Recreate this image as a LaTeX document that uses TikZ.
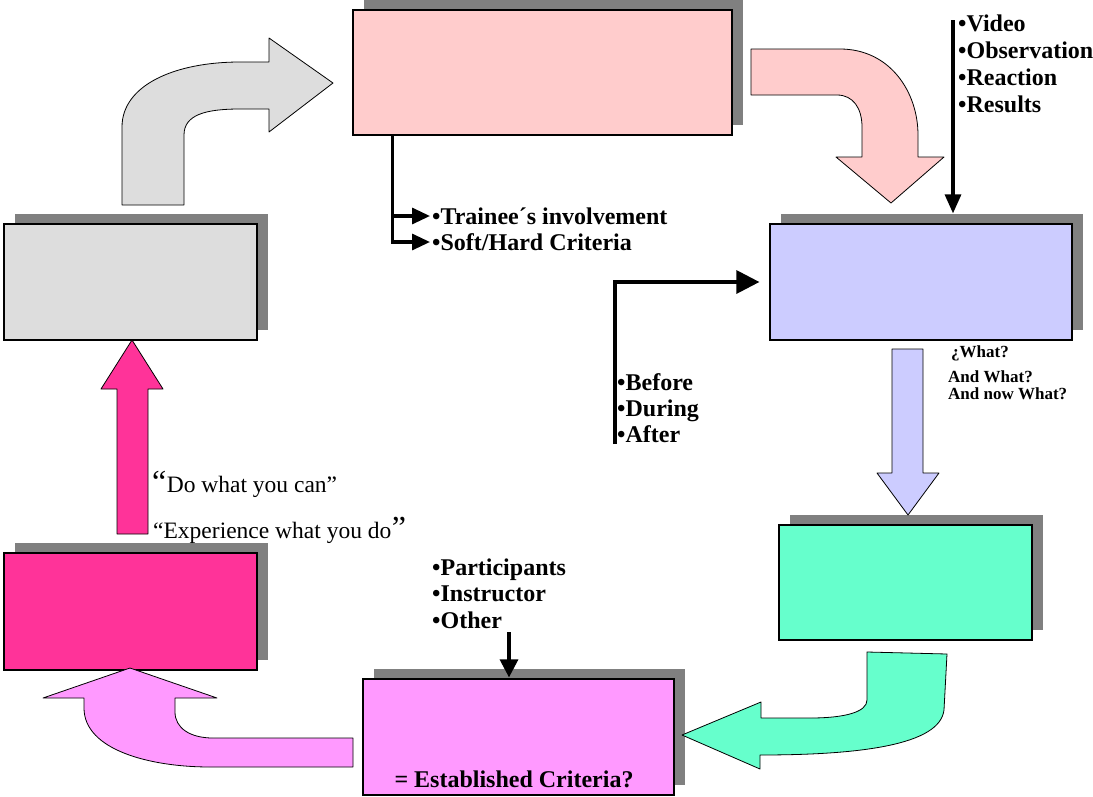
\documentclass[tikz,border=0pt]{standalone}
\usepackage{fontspec}
\setmainfont{Liberation Serif}
\usetikzlibrary{arrows.meta,shadows,calc}
\definecolor{pinkA}{HTML}{FFCCCC}
\definecolor{grayA}{HTML}{DDDDDD}
\definecolor{blueA}{HTML}{CCCCFF}
\definecolor{greenA}{HTML}{66FFCC}
\definecolor{hotA}{HTML}{FF3399}
\definecolor{violetA}{HTML}{FF99FF}
\definecolor{shadowA}{HTML}{808080}
\begin{document}
\begin{tikzpicture}[x=1pt,y=-1pt,
  box/.style={draw=black, line width=1.2pt, inner sep=0pt,
    drop shadow={shadow xshift=11pt, shadow yshift=10pt, fill=shadowA, opacity=1, draw=none}},
  blk/.style={draw=black, line width=0.8pt, line join=round},
  conn/.style={line width=3.2pt},
  lab/.style={font=\fontsize{24}{27}\selectfont\bfseries, inner sep=0pt, anchor=base west},
  small/.style={font=\fontsize{17}{17}\selectfont\bfseries, inner sep=0pt, anchor=base west},
  quote/.style={font=\fontsize{23.5}{27}\selectfont, inner sep=0pt, anchor=base west},
  bigq/.style={font=\fontsize{32}{32}\selectfont, inner sep=0pt, anchor=base west}]
\useasboundingbox (0,0) rectangle (1093,796);

% boxes
\node[box, fill=pinkA,   minimum width=379pt, minimum height=125pt] (b1) at (542.5,72.5) {};
\node[box, fill=grayA,   minimum width=253pt, minimum height=116pt] (b2) at (130.5,282) {};
\node[box, fill=blueA,   minimum width=302pt, minimum height=116pt] (b3) at (921,282) {};
\node[box, fill=greenA,  minimum width=253pt, minimum height=115pt] (b4) at (905.5,582.5) {};
\node[box, fill=hotA,    minimum width=253pt, minimum height=117pt] (b5) at (130.5,611.5) {};
\node[box, fill=violetA, minimum width=311pt, minimum height=116pt] (b6) at (518.5,737) {};

% block arrows
\draw[blk, fill=grayA] (122,205) -- (122,127) .. controls (122,85) and (175,62) .. (240,62)
  -- (269,62) -- (269,38) -- (333,83) -- (269,132) -- (269,109) -- (240,109)
  .. controls (205,109) and (184,115) .. (184,135) -- (184,205) -- cycle;
\draw[blk, fill=pinkA] (751,49) -- (840,49) .. controls (890,49) and (918,92) .. (918,135)
  -- (918,157) -- (944,157) -- (891,203) -- (836,157) -- (862,157) -- (862,127)
  .. controls (862,108) and (853,95) .. (837,95) -- (751,95) -- cycle;
\draw[blk, fill=blueA] (892,349) -- (923,349) -- (923,473) -- (939,473) -- (908,515)
  -- (877,473) -- (892,473) -- cycle;
\draw[blk, fill=greenA] (867,652) -- (947,654) -- (944,710) .. controls (940,745) and (860,755) .. (760,755)
  -- (760,769) -- (682,735) -- (761,702) -- (761,718) -- (810,718)
  .. controls (845,718) and (867,712) .. (867,700) -- cycle;
\draw[blk, fill=violetA] (353,738) -- (213,738) .. controls (190,738) and (175,728) .. (175,712)
  -- (175,698) -- (217,698) -- (130,668) -- (43,698) -- (84,698) -- (84,708)
  .. controls (84,750) and (150,767) .. (210,767) -- (353,767) -- cycle;
\draw[blk, fill=hotA] (117,534) -- (117,389) -- (101,389) -- (132,340) -- (163,389)
  -- (148,389) -- (148,534) -- cycle;

% texts
\node[lab] (t1) at (432,224) {•Trainee´s involvement};
\node[lab] (t2) at (432,250) {•Soft/Hard Criteria};

\node[lab] (v1) at (958,31) {•Video};
\node[lab] (v2) at (958,58) {•Observation};
\node[lab] (v3) at (958,85) {•Reaction};
\node[lab] (v4) at (958,112) {•Results};

\node[lab] (d1) at (617,390) {•Before};
\node[lab] (d2) at (617,416) {•During};
\node[lab] (d3) at (617,442) {•After};

\node[small] (w1) at (951,357) {¿What?};
\node[small] (w2) at (948,382) {And What?};
\node[small] (w3) at (948,399) {And now What?};

\node[lab] (p1) at (432,575) {•Participants};
\node[lab] (p2) at (432,601) {•Instructor};
\node[lab] (p3) at (432,628) {•Other};

\node[lab, anchor=base] (ec) at (514,787) {= Established Criteria?};

\node[bigq] (q1) at (152,492) {“};
\node[quote] (dw) at (q1.base east) {Do what you can”};
\node[quote] (ex) at (153,538) {“Experience what you do};
\node[bigq] (q2) at (ex.base east) {”};

% connectors
\coordinate (tj) at ($(b1.south west)+(40,0)$);
\draw[conn, -{Triangle[length=18pt,width=16pt]}] (tj) |- ([xshift=-2pt,yshift=8pt]t2.base west);
\draw[conn, -{Triangle[length=18pt,width=16pt]}] (tj) |- ([xshift=-2pt,yshift=8pt]t1.base west);

\coordinate (vs) at ([xshift=-5pt,yshift=11pt]v1.base west);
\coordinate (ve) at ([xshift=32pt,yshift=10pt]b3.north);
\draw[conn, -{Triangle[length=19pt,width=16pt]}] (vs) -- (vs |- ve);

\coordinate (ds) at ([xshift=-2pt,yshift=-2pt]d3.base west);
\draw[conn, -{Triangle[length=23pt,width=23pt]}] (ds) |- ([xshift=-10pt]b3.west);

\coordinate (ps) at ([xshift=77pt,yshift=-4pt]p3.base west);
\coordinate (pe) at ([yshift=1pt]b6.north);
\draw[conn, -{Triangle[length=18pt,width=18pt]}] (ps) -- (ps |- pe);
\end{tikzpicture}
\end{document}
